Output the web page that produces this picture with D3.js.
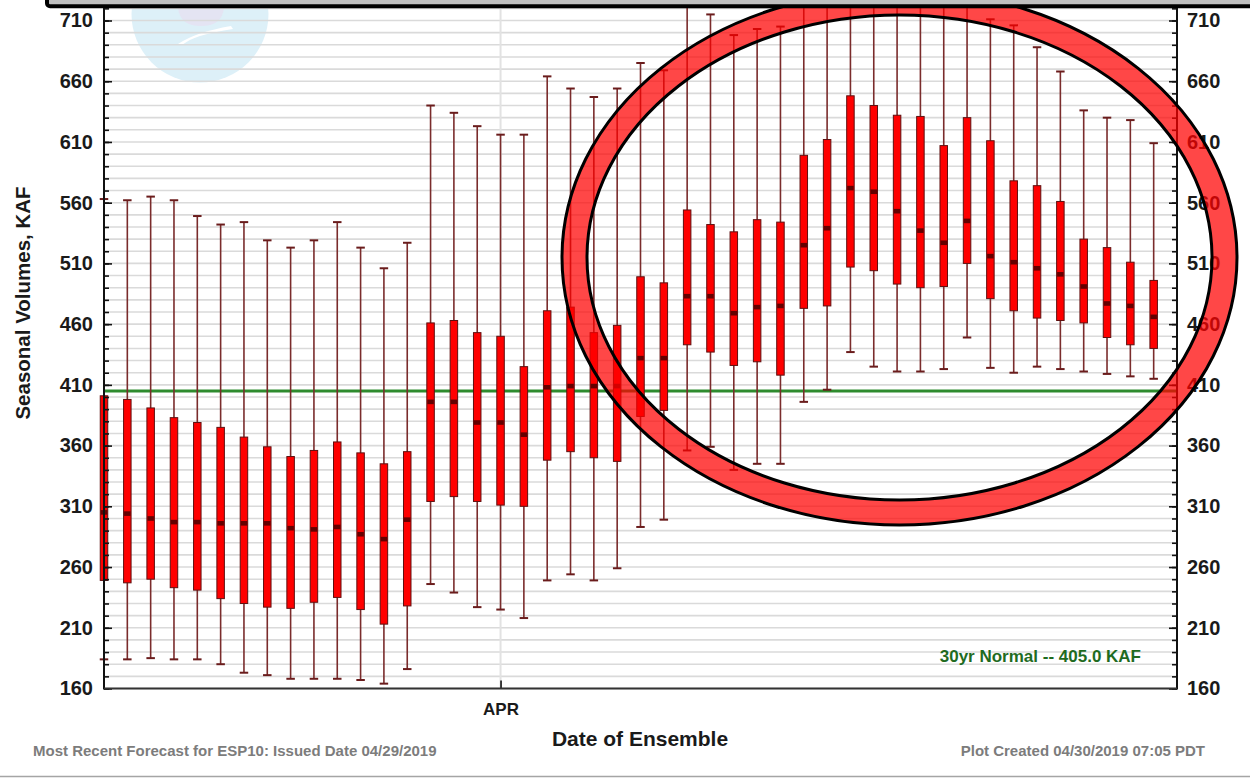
<!DOCTYPE html>
<html>
<head>
<meta charset="utf-8">
<script src="https://cdn.jsdelivr.net/npm/d3@7"></script>
<style>
  html, body { margin: 0; padding: 0; background: #fff; }
  svg { display: block; font-family: "Liberation Sans", Arial, sans-serif; }
</style>
</head>
<body>
<svg id="chart" width="1250" height="778"></svg>
<script>
// Ensemble issue dates (one ESP10 run per day)
const ensembleDates = [
  "2019-03-15","2019-03-16","2019-03-17","2019-03-18","2019-03-19","2019-03-20",
  "2019-03-21","2019-03-22","2019-03-23","2019-03-24","2019-03-25","2019-03-26",
  "2019-03-27","2019-03-28","2019-03-29","2019-03-30","2019-03-31","2019-04-01",
  "2019-04-02","2019-04-03","2019-04-04","2019-04-05","2019-04-06","2019-04-07",
  "2019-04-08","2019-04-09","2019-04-10","2019-04-11","2019-04-12","2019-04-13",
  "2019-04-14","2019-04-15","2019-04-16","2019-04-17","2019-04-18","2019-04-19",
  "2019-04-20","2019-04-21","2019-04-22","2019-04-23","2019-04-24","2019-04-25",
  "2019-04-26","2019-04-27","2019-04-28","2019-04-29"
];
// Seasonal volume statistics, KAF
const whiskerHigh = [563,562,565,562,549,542,544,529,523,529,544,523,506,527,640,634,623,616,616,664,654,647,654,675,669,735,715,698,703,705,725,745,760,755,750,745,740,722,711,706,688,668,636,630,628,609];
const boxHigh     = [401,398,391,383,379,375,367,359,351,356,363,354,345,355,461,463,453,450,425,471,474,453,459,499,494,554,542,536,546,544,599,612,648,640,632,631,607,630,611,578,574,561,530,523,511,496];
const medianVol   = [305,304,300,297,297,296,296,296,292,291,293,287,283,299,396,396,379,379,369,408,409,409,409,432,432,483,483,469,474,475,525,539,572,569,553,537,527,545,516,511,506,501,491,477,475,466];
const boxLow      = [249,247,250,243,241,234,230,227,226,231,235,225,213,228,314,318,314,311,310,348,355,350,347,384,389,443,437,426,429,418,473,475,507,504,493,490,491,510,481,471,465,463,461,449,443,440];
const whiskerLow  = [184,184,185,184,184,180,173,171,168,168,168,167,164,176,246,239,227,225,218,249,254,249,259,293,299,356,359,340,345,345,396,406,437,425,421,421,423,449,424,420,425,423,421,419,417,415];

const yTickValues = [160,210,260,310,360,410,460,510,560,610,660,710];
const xTickDates  = ["2019-04-01"];
const xTickLabels = ["APR"];
const normalVolume = 405.0;

const parse = d3.utcParse("%Y-%m-%d");
const dates = ensembleDates.map(parse);

const W = 1250, H = 778;
const left = 104, right = 1177, bottom = 688.5;

const svg = d3.select("#chart");
svg.append("rect").attr("width", W).attr("height", H).attr("fill", "#fff");

const x = d3.scaleUtc()
  .domain([parse("2019-03-15"), parse("2019-04-30")])
  .range([left, right]);
const y = d3.scaleLinear().domain([160, 710]).range([bottom, 20.5]);

// faint agency emblem behind the plot
const logo = svg.append("g");
logo.append("circle").attr("cx", 200).attr("cy", 14).attr("r", 68.5).attr("fill", "#ddf0f8");
logo.append("path")
  .attr("d", "M178,8 Q180,26 201,26 Q222,26 224,8 Z")
  .attr("fill", "#e4e4f3");
logo.append("path")
  .attr("d", "M178,44 Q196,32 231,26 L233,29 Q214,32 200,36 Q190,39 182,45 Z")
  .attr("fill", "#ffffff");

// horizontal grid every 10 KAF
const gridVals = d3.range(160, 721, 10);
svg.append("g").selectAll("line").data(gridVals).join("line")
  .attr("x1", left).attr("x2", right)
  .attr("y1", d => y(d)).attr("y2", d => y(d))
  .attr("stroke", "#dadada").attr("stroke-width", 1.6);

// month gridline
svg.append("g").selectAll("line").data(xTickDates).join("line")
  .attr("x1", d => x(parse(d))).attr("x2", d => x(parse(d)))
  .attr("y1", 0).attr("y2", bottom)
  .attr("stroke", "#e2e2e2").attr("stroke-width", 2);

// 30-year normal
svg.append("line")
  .attr("x1", left).attr("x2", right)
  .attr("y1", y(normalVolume)).attr("y2", y(normalVolume))
  .attr("stroke", "#2e8b2e").attr("stroke-width", 3);

// box plots
const boxW = 7.5, capW = 8.5;
const g = svg.append("g");
dates.forEach((d, i) => {
  const cx = x(d);
  g.append("line")
    .attr("x1", cx).attr("x2", cx)
    .attr("y1", y(whiskerHigh[i])).attr("y2", y(whiskerLow[i]))
    .attr("stroke", "#7a2c2c").attr("stroke-width", 1.6);
  [whiskerHigh[i], whiskerLow[i]].forEach(v => {
    g.append("line")
      .attr("x1", cx - capW / 2).attr("x2", cx + capW / 2)
      .attr("y1", y(v)).attr("y2", y(v))
      .attr("stroke", "#6a1c1c").attr("stroke-width", 2);
  });
  g.append("rect")
    .attr("x", cx - boxW / 2).attr("width", boxW)
    .attr("y", y(boxHigh[i])).attr("height", y(boxLow[i]) - y(boxHigh[i]))
    .attr("fill", "#ff0000").attr("stroke", "#5e1010").attr("stroke-width", 1);
  g.append("rect")
    .attr("x", cx - boxW / 2 + 0.5).attr("width", boxW - 1)
    .attr("y", y(medianVol[i]) - 2.3).attr("height", 4.6)
    .attr("fill", "#640000");
});

// axes
const axisFont = "bold 20px 'Liberation Sans', Arial, sans-serif";
const minorVals = d3.range(160, 721, 10);

const leftMajor = svg.append("g").attr("transform", `translate(${left},0)`)
  .call(d3.axisLeft(y).tickValues(yTickValues).tickSizeInner(-8).tickSizeOuter(0).tickPadding(11).tickFormat(d3.format("d")));
const leftMinor = svg.append("g").attr("transform", `translate(${left},0)`)
  .call(d3.axisLeft(y).tickValues(minorVals).tickSizeInner(-5).tickSizeOuter(0).tickFormat(""));
const rightMajor = svg.append("g").attr("transform", `translate(${right},0)`)
  .call(d3.axisRight(y).tickValues(yTickValues).tickSizeInner(-8).tickSizeOuter(0).tickPadding(10).tickFormat(d3.format("d")));
const rightMinor = svg.append("g").attr("transform", `translate(${right},0)`)
  .call(d3.axisRight(y).tickValues(minorVals).tickSizeInner(-5).tickSizeOuter(0).tickFormat(""));
const xAxis = svg.append("g").attr("transform", `translate(0,${bottom})`)
  .call(d3.axisBottom(x).tickValues(xTickDates.map(parse)).tickSizeInner(-8).tickSizeOuter(0).tickPadding(14.5)
    .tickFormat((d, i) => xTickLabels[i]));

[leftMajor, leftMinor, rightMajor, rightMinor, xAxis].forEach(a => {
  a.select(".domain").remove();
  a.selectAll(".tick line").attr("stroke", "#111").attr("stroke-width", 1.6);
  a.selectAll(".tick text").style("font", axisFont).attr("fill", "#1a1a1a");
});
xAxis.selectAll(".tick text").style("font-size", "17px");

// frame lines
svg.append("line").attr("x1", left).attr("x2", left).attr("y1", 0).attr("y2", bottom + 1)
  .attr("stroke", "#111").attr("stroke-width", 2);
svg.append("line").attr("x1", right).attr("x2", right).attr("y1", 0).attr("y2", bottom + 1)
  .attr("stroke", "#111").attr("stroke-width", 2);
svg.append("line").attr("x1", left).attr("x2", right).attr("y1", bottom).attr("y2", bottom)
  .attr("stroke", "#333").attr("stroke-width", 2);

// titles and notes
svg.append("text")
  .attr("transform", "translate(29.5,303) rotate(-90)")
  .attr("text-anchor", "middle")
  .style("font", "bold 20.5px 'Liberation Sans', Arial, sans-serif")
  .attr("fill", "#1a1a1a")
  .text("Seasonal Volumes, KAF");

svg.append("text")
  .attr("x", 640).attr("y", 746).attr("text-anchor", "middle")
  .style("font", "bold 21px 'Liberation Sans', Arial, sans-serif")
  .attr("fill", "#1a1a1a")
  .text("Date of Ensemble");

svg.append("text")
  .attr("x", 1141).attr("y", 662).attr("text-anchor", "end")
  .style("font", "bold 17px 'Liberation Sans', Arial, sans-serif")
  .attr("fill", "#1f6b1f")
  .text("30yr Normal -- " + normalVolume.toFixed(1) + " KAF");

svg.append("text")
  .attr("x", 33).attr("y", 756)
  .style("font", "bold 15px 'Liberation Sans', Arial, sans-serif")
  .attr("fill", "#7c7c7c")
  .text("Most Recent Forecast for ESP10: Issued Date 04/29/2019");

svg.append("text")
  .attr("x", 1205).attr("y", 756).attr("text-anchor", "end")
  .style("font", "bold 15px 'Liberation Sans', Arial, sans-serif")
  .attr("fill", "#7c7c7c")
  .text("Plot Created 04/30/2019 07:05 PDT");

// highlight ring around the late-April runs
const ring = svg.append("g");
ring.append("ellipse")
  .attr("cx", 899.5).attr("cy", 257.5).attr("rx", 325).attr("ry", 255)
  .attr("fill", "none").attr("stroke", "#ff0000").attr("stroke-opacity", 0.72).attr("stroke-width", 25);
[[337.5, 267.5], [312.5, 242.5]].forEach(([rx, ry]) => {
  ring.append("ellipse")
    .attr("cx", 899.5).attr("cy", 257.5).attr("rx", rx).attr("ry", ry)
    .attr("fill", "none").attr("stroke", "#000").attr("stroke-width", 3);
});

// header strip and bottom rule
svg.append("rect")
  .attr("x", 47).attr("y", -20).attr("width", 1240).attr("height", 26.2).attr("rx", 3)
  .attr("fill", "#bfbfbf").attr("stroke", "#000").attr("stroke-width", 4);
svg.append("line").attr("x1", 0).attr("x2", W).attr("y1", 776.5).attr("y2", 776.5)
  .attr("stroke", "#a5a5a5").attr("stroke-width", 1.5);
</script>
</body>
</html>
